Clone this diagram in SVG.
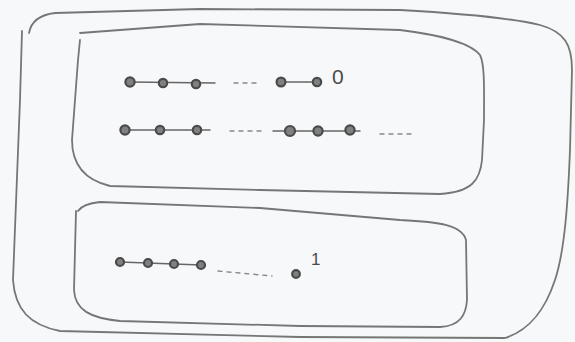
<svg xmlns="http://www.w3.org/2000/svg" width="575" height="342" viewBox="0 0 575 342">
<style>
.box{fill:none;stroke:#767676;stroke-width:1.8;stroke-linecap:round;stroke-linejoin:round}
.edge{fill:none;stroke:#666;stroke-width:1.5;stroke-linecap:round}
.dash{fill:none;stroke:#888;stroke-width:1.4;stroke-dasharray:4 5;stroke-linecap:round}
.dot{fill:#808080;stroke:#4a4a4a;stroke-width:2.2}
.lbl{font-family:"Liberation Sans",Arial,sans-serif;fill:#4a4a4a}
</style>
<rect width="575" height="342" fill="#f7f8fa"/>
<g id="outer">
<path class="box" d="M29,33 C31,22 38,15 55,13 L200,9 L400,10 C470,14 520,20 540,25 C565,32 572,45 572,70 L570,150 C568,200 565,250 555,280 C545,310 530,330 505,338 L300,337 L60,331 C30,325 15,310 13,280 L20,100 L22,31"/>
</g>
<g id="group0">
<path class="box" d="M80,33 L200,24 L400,30 C440,35 470,42 480,55 C485,65 484,90 484,120 L482,160 C480,180 472,192 440,194 L260,190 L110,186 C85,180 72,165 72,140 L78,60 L80,40"/>
</g>
<g id="group1">
<path class="box" d="M78,211 C82,205 90,203 100,202 L260,208 L400,220 C440,222 462,225 466,240 L467,300 C466,315 460,326 440,327 L300,326 L120,321 C90,318 75,310 74,290 L76,211"/>
</g>
<g id="connectors">
<path class="edge" d="M130,82 L215,83"/>
<path class="dash" d="M234,83 L260,83"/>
<path class="edge" d="M281,82 L317,82"/>
<path class="edge" d="M125,130 L210,130"/>
<path class="dash" d="M230,131 L262,131"/>
<path class="edge" d="M273,131 L360,131"/>
<path class="dash" d="M380,134 L414,134"/>
<path class="edge" d="M120,262 L201,265"/>
<path class="dash" d="M218,271 L272,276"/>
</g>
<g id="row0">
<g id="n01"><circle class="dot" cx="130" cy="82" r="4.6"/></g>
<g id="n02"><circle class="dot" cx="163" cy="83" r="4.2"/></g>
<g id="n03"><circle class="dot" cx="196" cy="84" r="4.2"/></g>
<g id="n04"><circle class="dot" cx="281" cy="82" r="4.4"/></g>
<g id="n05"><circle class="dot" cx="317" cy="82" r="4.2"/></g>
<g id="label0"><text class="lbl" x="332" y="84" font-size="21">0</text></g>
</g>
<g id="row0b">
<g id="n11"><circle class="dot" cx="125" cy="130" r="4.6"/></g>
<g id="n12"><circle class="dot" cx="160" cy="130" r="4.2"/></g>
<g id="n13"><circle class="dot" cx="197" cy="130" r="4.2"/></g>
<g id="n14"><circle class="dot" cx="290" cy="131" r="5"/></g>
<g id="n15"><circle class="dot" cx="318" cy="131" r="4.6"/></g>
<g id="n16"><circle class="dot" cx="350" cy="130" r="4.6"/></g>
</g>
<g id="row1">
<g id="n21"><circle class="dot" cx="120" cy="262" r="4"/></g>
<g id="n22"><circle class="dot" cx="148" cy="263" r="4"/></g>
<g id="n23"><circle class="dot" cx="174" cy="264" r="4"/></g>
<g id="n24"><circle class="dot" cx="201" cy="265" r="4"/></g>
<g id="n25"><circle class="dot" cx="296" cy="274" r="3.8"/></g>
<g id="label1"><text class="lbl" x="311" y="265" font-size="17">1</text></g>
</g>
</svg>
